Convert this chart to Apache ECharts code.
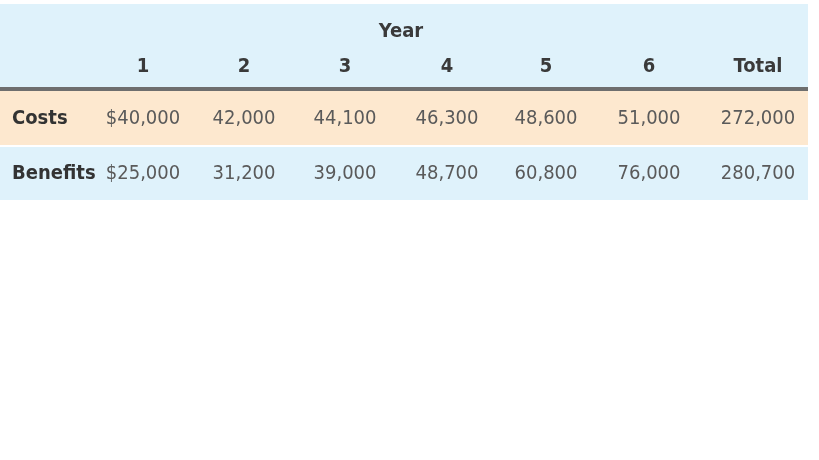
<html>
<head>
<meta charset="utf-8">
<script src="https://cdn.jsdelivr.net/npm/echarts@6/dist/echarts.min.js"></script>
<style>
html, body { margin: 0; padding: 0; background: #fff; }
#main { width: 819px; height: 460px; }
</style>
</head>
<body>
<div id="main"></div>
<script>
var yearLabels = ['1', '2', '3', '4', '5', '6', 'Total'];
var rowNames = ['Costs', 'Benefits'];
var costs = ['$40,000', '42,000', '44,100', '46,300', '48,600', '51,000', '272,000'];
var benefits = ['$25,000', '31,200', '39,000', '48,700', '60,800', '76,000', '280,700'];
var colX = [143, 244, 345, 447, 546, 649, 758];

var FONT = '"Liberation Sans Narrow", "DejaVu Sans Condensed", "Roboto Condensed", sans-serif';

var chart = echarts.init(document.getElementById('main'), null, {renderer: 'canvas'});

var els = [];
// backgrounds
els.push({type: 'rect', shape: {x: 0, y: 4, width: 808, height: 84}, style: {fill: '#dff2fb'}});
els.push({type: 'rect', shape: {x: 0, y: 87, width: 808, height: 4}, style: {fill: '#6e6e6e'}});
els.push({type: 'rect', shape: {x: 0, y: 91, width: 808, height: 54}, style: {fill: '#fde8cf'}});
els.push({type: 'rect', shape: {x: 0, y: 147, width: 808, height: 53}, style: {fill: '#dff2fb'}});

els.push({type: 'text', x: 401, y: 32, style: {text: 'Year', fill: '#3a3a3a',
    font: 'bold 20px ' + FONT, align: 'center', verticalAlign: 'middle'}});

yearLabels.forEach(function (t, i) {
    els.push({type: 'text', x: colX[i], y: 67, style: {text: t, fill: '#3a3a3a',
        font: 'bold 20px ' + FONT, align: 'center', verticalAlign: 'middle'}});
});

var rows = [costs, benefits];
var rowY = [119, 174];
rows.forEach(function (vals, r) {
    els.push({type: 'text', x: 12, y: rowY[r], style: {text: rowNames[r], fill: '#333',
        font: 'bold 20px ' + FONT, align: 'left', verticalAlign: 'middle'}});
    vals.forEach(function (v, i) {
        els.push({type: 'text', x: colX[i], y: rowY[r], style: {text: v, fill: '#5a5a5a',
            font: '20px ' + FONT, align: 'center', verticalAlign: 'middle'}});
    });
});

chart.setOption({graphic: els});
</script>
</body>
</html>
